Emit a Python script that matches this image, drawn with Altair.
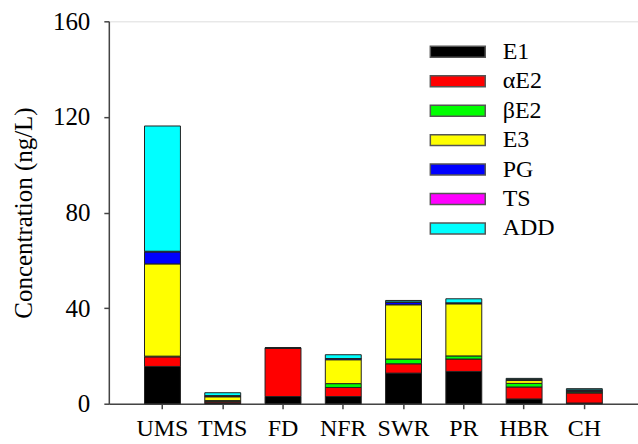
import altair as alt
import pandas as pd

sites = ["UMS", "TMS", "FD", "NFR", "SWR", "PR", "HBR", "CH"]
compounds = ["E1", "αE2", "βE2", "E3", "PG", "TS", "ADD"]
colors = ["#000000", "#ff0000", "#00ff00", "#ffff00", "#0000ff", "#ff00ff", "#00ffff"]

E1 =   [15.6, 0.4, 3.0, 3.0, 12.8, 13.5, 2.0, 0.3]
aE2 =  [4.0, 0.6, 20.4, 3.8, 3.9, 5.2, 5.0, 4.2]
bE2 =  [0.3, 0.3, 0.0, 1.6, 2.0, 1.3, 1.5, 0.4]
E3 =   [38.6, 1.6, 0.0, 10.0, 22.7, 21.8, 1.2, 0.3]
PG =   [5.0, 0.3, 0.0, 0.5, 1.0, 0.4, 0.4, 0.3]
TS =   [0.3, 0.2, 0.0, 0.0, 0.2, 0.0, 0.1, 0.3]
ADD =  [52.4, 1.2, 0.0, 1.6, 0.6, 1.7, 0.4, 0.5]

series = [E1, aE2, bE2, E3, PG, TS, ADD]
rows = []
for ci, (c, vals) in enumerate(zip(compounds, series)):
    for s, v in zip(sites, vals):
        rows.append({"site": s, "compound": c, "value": v, "ord": ci})
df = pd.DataFrame(rows)

font = "Liberation Serif, Times New Roman, serif"

legend_path = "M-2.5,-0.5H2.5V0.5H-2.5Z"

chart = alt.Chart(df).mark_bar(stroke="#222222", strokeWidth=1).encode(
    x=alt.X("site:N", sort=sites,
            scale=alt.Scale(paddingInner=0.404, paddingOuter=0.592),
            axis=alt.Axis(title=None, labelAngle=0, labelFont=font, labelFontSize=24,
                          labelColor="black", tickSize=5, tickColor="#444", tickWidth=1.5,
                          domainColor="#444", domainWidth=1.5, labelPadding=8)),
    y=alt.Y("value:Q", stack="zero",
            scale=alt.Scale(domain=[0, 160], nice=False),
            axis=alt.Axis(title="Concentration (ng/L)", values=[0, 40, 80, 120, 160],
                          labelFont=font, labelFontSize=25, labelColor="black",
                          titleFont=font, titleFontSize=25, titleFontWeight="normal",
                          titleColor="black", titlePadding=16,
                          tickSize=5, tickColor="#444", tickWidth=1.5,
                          domainColor="#444", domainWidth=1.5, labelPadding=14, grid=False)),
    color=alt.Color("compound:N", sort=compounds,
                    scale=alt.Scale(domain=compounds, range=colors),
                    legend=alt.Legend(title=None, orient="none", legendX=337.5, legendY=18.5,
                                      padding=0,
                                      symbolType=legend_path, symbolSize=484,
                                      symbolStrokeColor="#555555", symbolStrokeWidth=1.5,
                                      labelFont=font, labelFontSize=24, labelColor="black",
                                      labelOffset=33, rowPadding=5.5)),
    order=alt.Order("ord:Q", sort="ascending"),
).properties(
    width=530, height=383,
    autosize=alt.AutoSizeParams(type="none"),
    padding={"left": 109, "top": 21, "right": 0, "bottom": 40},
).configure_view(stroke="#444444", strokeWidth=1.5).configure(background="white")

chart.save("out.html", embed_options={"renderer": "svg", "actions": False})
